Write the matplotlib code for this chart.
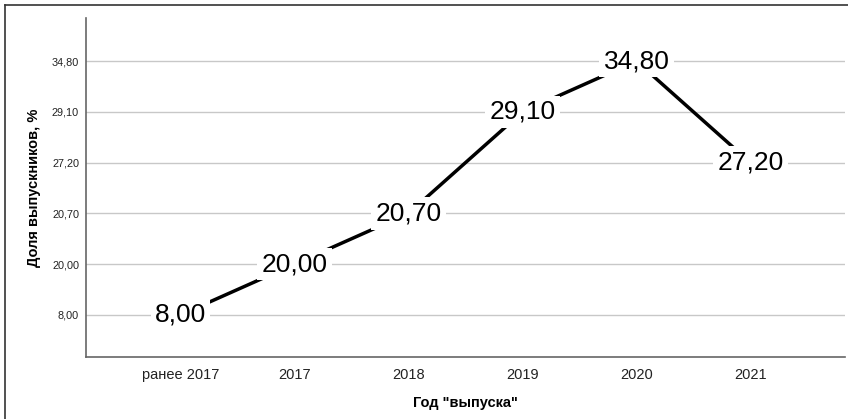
import matplotlib.pyplot as plt
from matplotlib.lines import Line2D

plt.rcParams['font.family'] = ['Liberation Sans', 'DejaVu Sans']

years = ['ранее 2017', '2017', '2018', '2019', '2020', '2021']
shares = [8.00, 20.00, 20.70, 29.10, 34.80, 27.20]

# SPSS puts the values on a categorical axis: sorted, equally spaced
levels = sorted(set(shares))
ypos = [levels.index(v) for v in shares]

def fmt(v):
    return f'{v:.2f}'.replace('.', ',')

fig = plt.figure(figsize=(8.48, 4.19), dpi=100)
ax = fig.add_axes([86/848, 1 - 357/419, (845-86)/848, (357-18)/419])

ax.plot(range(len(years)), ypos, color='black', lw=2.5, zorder=3)
for i, (v, y) in enumerate(zip(shares, ypos)):
    ax.text(i, y, fmt(v), ha='center', va='center', fontsize=19, zorder=4,
            bbox=dict(facecolor='white', edgecolor='none', pad=3))

ax.set_xlim(-0.83, len(years) - 1 + 0.83)
ax.set_ylim(-0.83, len(levels) - 1 + 0.85)
ax.set_xticks(range(len(years)))
ax.set_xticklabels(years, fontsize=10.5, color='#222222')
ax.set_yticks(range(len(levels)))
ax.set_yticklabels([fmt(v) for v in levels], fontsize=7.8, color='#222222')
ax.tick_params(length=0, pad=5)
ax.tick_params(axis='x', pad=8)
ax.grid(axis='y', color='#c8c8c8', lw=1)
ax.set_axisbelow(True)
for s in ['top', 'right']:
    ax.spines[s].set_visible(False)
for s in ['left', 'bottom']:
    ax.spines[s].set_color('#666666')
    ax.spines[s].set_linewidth(1.2)

ax.set_xlabel('Год "выпуска"', fontsize=10.5, fontweight='bold', labelpad=10)
ax.set_ylabel('Доля выпускников, %', fontsize=10.5, fontweight='bold', labelpad=8)

# frame lines of the cropped SPSS viewer
fig.add_artist(Line2D([5/848, 5/848], [0, 1 - 5/419], color='#333333', lw=1.2))
fig.add_artist(Line2D([5/848, 1], [1 - 5/419, 1 - 5/419], color='#333333', lw=1.2))

fig.savefig('out.png', dpi=100)
